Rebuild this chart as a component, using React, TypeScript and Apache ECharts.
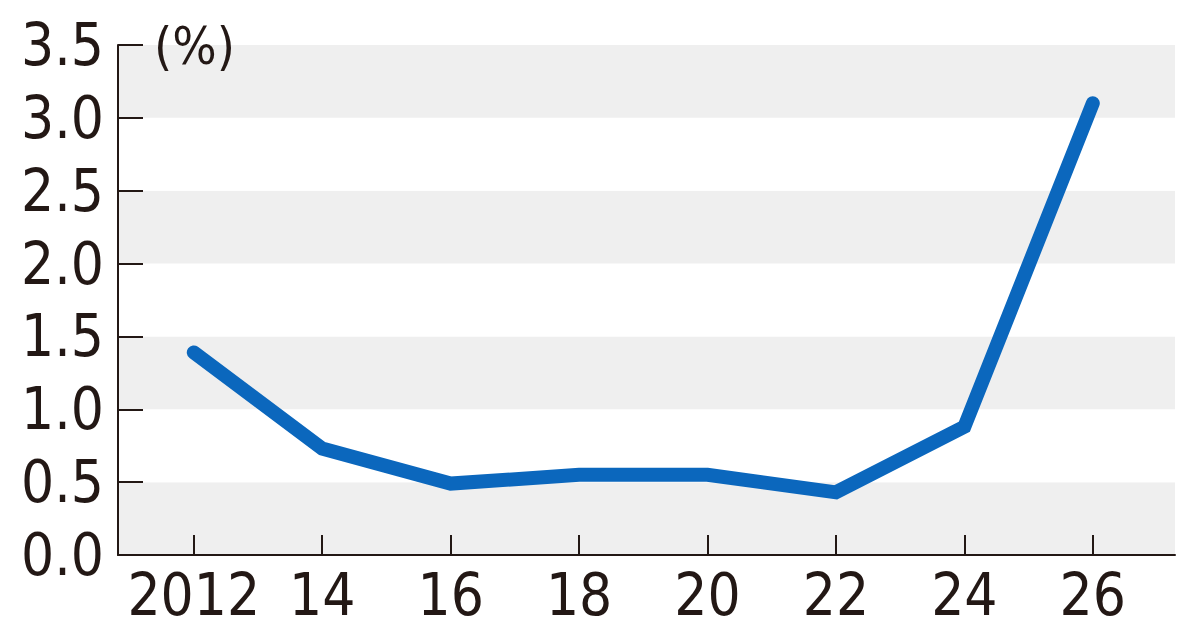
import React, { useEffect, useRef } from "react";
import * as echarts from "echarts";

const years = [2012, 2014, 2016, 2018, 2020, 2022, 2024, 2026];
const values = [1.39, 0.73, 0.49, 0.55, 0.55, 0.43, 0.88, 3.1];
const xTickLabels = ["2012", "14", "16", "18", "20", "22", "24", "26"];
const yTicks = [0, 0.5, 1, 1.5, 2, 2.5, 3, 3.5];

const FONT = "'Liberation Sans Narrow', 'DejaVu Sans Condensed', sans-serif";
const INK = "#231815";

export default function App() {
  const ref = useRef<HTMLDivElement>(null);
  useEffect(() => {
    if (!ref.current) return;
    const chart = echarts.init(ref.current, undefined, { renderer: "svg" });
    chart.setOption({
      animation: false,
      backgroundColor: "#ffffff",
      grid: { left: 118, right: 25, top: 45, bottom: 75, containLabel: false },
      xAxis: {
        type: "value",
        min: 2010.82,
        max: 2027.28,
        axisLine: { show: true, lineStyle: { color: INK, width: 2 } },
        axisTick: {
          show: true,
          inside: true,
          length: 20,
          customValues: years,
          lineStyle: { color: INK, width: 2 },
        },
        axisLabel: {
          customValues: years,
          formatter: (v: number) => xTickLabels[years.indexOf(Math.round(v))] ?? "",
          fontFamily: FONT,
          fontSize: 58,
          lineHeight: 60,
          color: INK,
          margin: 10,
        },
        splitLine: { show: false },
      },
      yAxis: {
        type: "value",
        min: 0,
        max: 3.5,
        interval: 0.5,
        name: "(%)",
        nameLocation: "end",
        nameGap: -27,
        nameTextStyle: {
          fontFamily: FONT,
          fontSize: 52,
          color: INK,
          align: "left",
          padding: [0, 0, 0, 36],
        },
        axisLine: { show: true, lineStyle: { color: INK, width: 2 } },
        axisTick: { show: true, inside: true, length: 25, lineStyle: { color: INK, width: 2 } },
        axisLabel: {
          formatter: (v: number) => v.toFixed(1),
          fontFamily: FONT,
          fontSize: 58,
          color: INK,
          margin: 14,
          customValues: yTicks,
        },
        splitLine: { show: false },
        splitArea: { show: true, areaStyle: { color: ["#efefef", "#ffffff"] } },
      },
      series: [
        {
          type: "line",
          data: years.map((y, i) => [y, values[i]]),
          showSymbol: false,
          symbol: "none",
          lineStyle: { color: "#0b67bd", width: 14, cap: "round", join: "miter" },
        },
      ],
    });
    return () => chart.dispose();
  }, []);
  return <div ref={ref} style={{ width: 1200, height: 630, position: "absolute", left: 0, top: 0 }} />;
}
